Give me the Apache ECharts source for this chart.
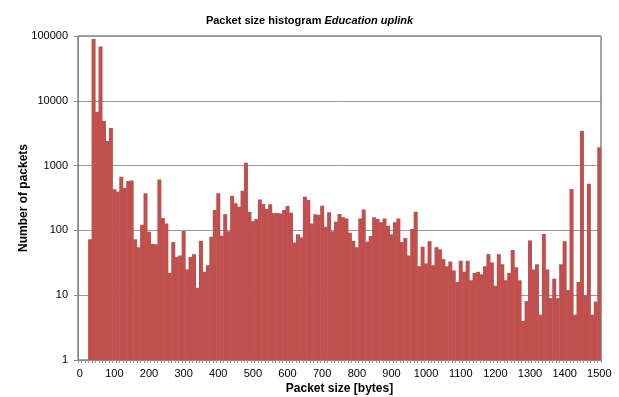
<!DOCTYPE html>
<html>
<head>
<meta charset="utf-8">
<script src="https://cdn.jsdelivr.net/npm/echarts@6/dist/echarts.min.js"></script>
<style>
html,body{margin:0;padding:0;background:#fff;}
#chart{width:619px;height:397px;}
</style>
</head>
<body>
<div id="chart"></div>
<script>
// Histogram bins (bytes), 10-byte bins
var binLabels = [
 '0','10','20','30','40','50','60','70','80','90',
 '100','110','120','130','140','150','160','170','180','190',
 '200','210','220','230','240','250','260','270','280','290',
 '300','310','320','330','340','350','360','370','380','390',
 '400','410','420','430','440','450','460','470','480','490',
 '500','510','520','530','540','550','560','570','580','590',
 '600','610','620','630','640','650','660','670','680','690',
 '700','710','720','730','740','750','760','770','780','790',
 '800','810','820','830','840','850','860','870','880','890',
 '900','910','920','930','940','950','960','970','980','990',
 '1000','1010','1020','1030','1040','1050','1060','1070','1080','1090',
 '1100','1110','1120','1130','1140','1150','1160','1170','1180','1190',
 '1200','1210','1220','1230','1240','1250','1260','1270','1280','1290',
 '1300','1310','1320','1330','1340','1350','1360','1370','1380','1390',
 '1400','1410','1420','1430','1440','1450','1460','1470','1480','1490',
 '1500'
];
// Number of packets per bin (log scale)
var packetCounts = [
 null, null, null, 73, 90000, 6800, 69000, 4900, 2400, 3800,
 430, 400, 670, 450, 580, 590, 73, 55, 122, 373,
 95, 62, 61, 608, 155, 128, 22, 66, 39, 41,
 98, 25, 39, 43, 13, 69, 23, 29, 80, 206,
 373, 83, 177, 97, 343, 262, 232, 410, 1110, 192,
 139, 150, 300, 255, 214, 253, 185, 185, 183, 206,
 238, 188, 65, 87, 78, 332, 295, 128, 177, 173,
 240, 114, 190, 97, 136, 179, 159, 153, 92, 69,
 55, 153, 211, 67, 82, 159, 150, 133, 153, 118,
 87, 133, 153, 66, 76, 41, 105, 194, 28, 56,
 31, 68, 29, 55, 51, 36, 28, 33, 24, 16,
 34, 23, 34, 17, 22, 23, 21, 28, 43, 32,
 14, 43, 30, 17, 22, 50, 27, 17, 4, 8.1,
 70, 25, 30, 5, 88, 25, 9, 18, 9, 30,
 68, 12, 435, 5, 16, 3430, 10, 527, 5, 8,
 1920
];
var yTicks = [1, 10, 100, 1000, 10000, 100000];

var chart = echarts.init(document.getElementById('chart'), null, {renderer: 'canvas'});
var font = 'Liberation Sans, Arial, sans-serif';
var barColor = '#C0504D';
chart.setOption({
  animation: false,
  backgroundColor: '#ffffff',
  textStyle: {fontFamily: font},
  title: {
    text: '{a|Packet size histogram }{b|Education uplink}',
    left: 'center',
    top: 10,
    textStyle: {
      rich: {
        a: {fontFamily: font, fontSize: 11, fontWeight: 'bold', color: '#000'},
        b: {fontFamily: font, fontSize: 11, fontWeight: 'bold', fontStyle: 'italic', color: '#000'}
      }
    }
  },
  grid: {left: 78, right: 18, top: 36, bottom: 37, containLabel: false, outerBoundsMode: 'none',
         show: true, borderColor: '#444', borderWidth: 1, backgroundColor: 'transparent'},
  xAxis: {
    type: 'category',
    data: binLabels,
    boundaryGap: true,
    name: 'Packet size [bytes]',
    nameLocation: 'middle',
    nameGap: 23,
    nameMoveOverlap: false,
    nameTextStyle: {fontFamily: font, fontSize: 12, fontWeight: 'bold', color: '#000'},
    axisLine: {lineStyle: {color: '#888', width: 1}},
    axisTick: {show: true, interval: 0, length: 3, lineStyle: {color: '#999'}},
    axisLabel: {interval: 9, fontFamily: font, fontSize: 11, color: '#000', margin: 8},
    splitLine: {show: false}
  },
  yAxis: {
    type: 'log',
    logBase: 10,
    min: yTicks[0],
    max: yTicks[yTicks.length - 1],
    name: 'Number of packets',
    nameLocation: 'middle',
    nameGap: 48,
    nameMoveOverlap: false,
    nameTextStyle: {fontFamily: font, fontSize: 12, fontWeight: 'bold', color: '#000'},
    axisLine: {show: true, lineStyle: {color: '#888', width: 1}},
    axisTick: {show: true, length: 4, lineStyle: {color: '#888'}},
    axisLabel: {fontFamily: font, fontSize: 11, color: '#000', margin: 10,
      formatter: function (v) { return String(Math.round(v)); }},
    splitLine: {show: true, lineStyle: {color: '#999', width: 1}},
    minorTick: {show: false},
    minorSplitLine: {show: false}
  },
  series: [{
    type: 'bar',
    data: packetCounts,
    barWidth: 4,
    itemStyle: {color: barColor}
  }]
});
</script>
</body>
</html>
